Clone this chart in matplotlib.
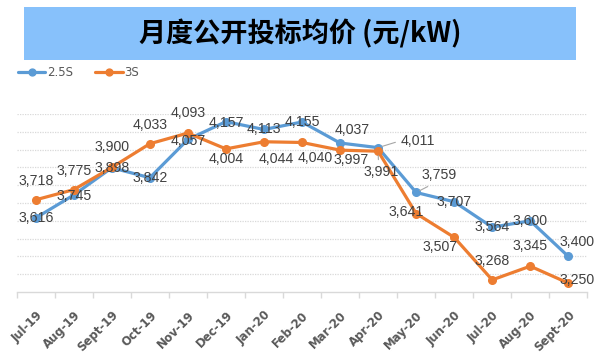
import matplotlib
matplotlib.use('Agg')
import matplotlib.pyplot as plt
from matplotlib.patches import Rectangle
import numpy as np

# 数据
months = ['Jul-19', 'Aug-19', 'Sept-19', 'Oct-19', 'Nov-19', 'Dec-19', 'Jan-20', 'Feb-20',
          'Mar-20', 'Apr-20', 'May-20', 'Jun-20', 'Jul-20', 'Aug-20', 'Sept-20']
price_25s = [3616, 3745, 3898, 3842, 4057, 4157, 4113, 4155, 4037, 4011, 3759, 3707, 3564, 3600, 3400]
price_3s = [3718, 3775, 3900, 4033, 4093, 4004, 4044, 4040, 3997, 3991, 3641, 3507, 3268, 3345, 3250]
series_names = ['2.5S', '3S']
title = '月度公开投标均价 (元/kW)'

# 标签偏移 (像素, 向右/向下为正)
off_25s = [(0, 0), (0, 1), (0, 0), (0, 0), (0, 2), (0, 1), (0, 0), (0, 0),
           (12, -13), (40, -7), (23, -17), (0, 0), (0, 0), (0, 0), (9, -14)]
off_3s = [(0, -19), (0, -19), (0, -20), (0, -19), (0, -20), (0, 10), (12, 17), (13, 16),
          (11, 10), (3, 21), (-10, -2), (-14, 10), (0, -19), (0, -20), (9, -3)]
# 引线: 索引 -> 文本上的连接位置
lead_25s = {9: (0.0, 0.5), 10: (0.4, 0.0)}
lead_3s = {9: (0.43, 1.0)}

blue = '#5B9BD5'
orange = '#ED7D31'

fig = plt.figure(figsize=(6.05, 3.54), dpi=100)
ax = fig.add_axes([16.7 / 605, 1 - 292 / 354, 570.6 / 605, 178 / 354])

# 标题背景
fig.patches.append(Rectangle((24 / 605, 1 - 60 / 354), 551.7 / 605, 53.3 / 354,
                             transform=fig.transFigure, facecolor='#87C1FB',
                             edgecolor='none', zorder=0))
fig.text(300 / 605, 1 - 33.5 / 354, title, ha='center', va='center', fontsize=19.5,
         fontweight='bold', family=['Noto Sans CJK SC', 'DejaVu Sans'], color='black')

x = np.arange(len(months))
l1, = ax.plot(x, price_25s, color=blue, lw=2.3, marker='o', ms=5.5, zorder=3,
              label=series_names[0], solid_capstyle='round')
l2, = ax.plot(x, price_3s, color=orange, lw=2.3, marker='o', ms=5.5, zorder=3,
              label=series_names[1], solid_capstyle='round')


def add_labels(vals, offs, leads):
    for i, v in enumerate(vals):
        dx, dy = offs[i]
        kw = {}
        if i in leads:
            kw['arrowprops'] = dict(arrowstyle='-', color='#A6A6A6', lw=0.8,
                                    shrinkA=2, shrinkB=3, relpos=leads[i])
        ax.annotate(f'{v:,}', (i, v), xytext=(dx, -dy), textcoords='offset pixels',
                    ha='center', va='center', fontsize=10.2, color='#404040',
                    family='Liberation Sans', zorder=5, **kw)


add_labels(price_25s, off_25s, lead_25s)
add_labels(price_3s, off_3s, lead_3s)

ax.set_xlim(-0.5, len(months) - 0.5)
ax.set_ylim(3200, 4200)
ax.set_yticks(np.arange(3300, 4201, 100))
ax.yaxis.grid(True, linestyle=(0, (1, 1)), color='#D9D9D9', lw=0.9)
ax.tick_params(axis='y', length=0, labelleft=False)
ax.set_axisbelow(True)

ax.set_xticks(x)
ax.set_xticklabels(months, rotation=45, ha='right', va='top', rotation_mode='anchor',
                   fontsize=8.5, fontweight='bold', color='#595959')
ax.set_xticks(np.arange(-0.5, len(months)), minor=True)
ax.tick_params(axis='x', which='major', length=0, pad=12)
ax.tick_params(axis='x', which='minor', length=4, color='#D9D9D9', width=1)

for s in ['top', 'right', 'left']:
    ax.spines[s].set_visible(False)
ax.spines['bottom'].set_color('#D9D9D9')
ax.spines['bottom'].set_linewidth(1)

fig.legend(handles=[l1, l2], loc='center left', bbox_to_anchor=(18 / 605, 1 - 72.7 / 354),
           ncol=2, frameon=False, fontsize=8.5, handlelength=2.3, handletextpad=0.15,
           columnspacing=1.9, borderpad=0, borderaxespad=0, labelcolor='#595959',
           markerscale=0.9)

fig.savefig('out.png', dpi=100)
